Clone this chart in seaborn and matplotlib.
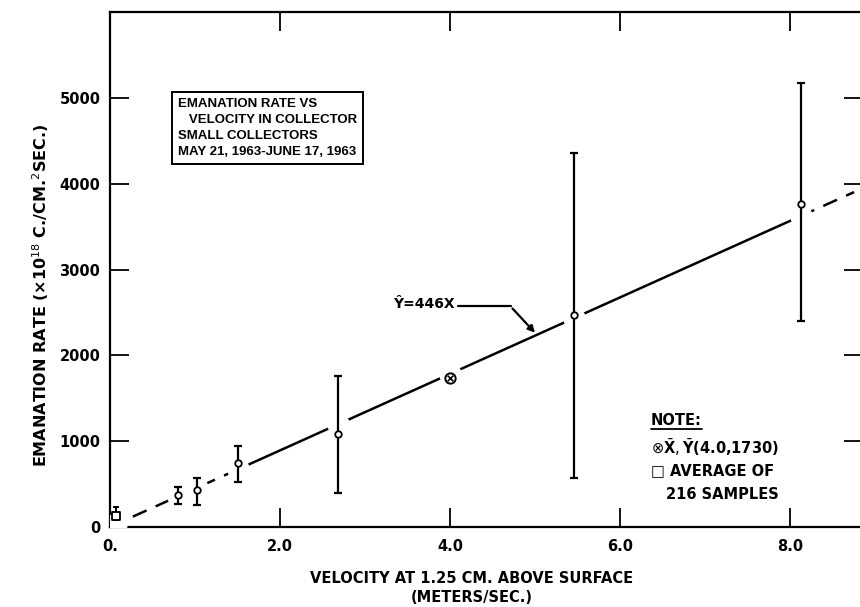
import numpy as np
import pandas as pd
import matplotlib
matplotlib.use("Agg")
import matplotlib.pyplot as plt
import seaborn as sns

# values
velocity = [0.80, 1.02, 1.50, 2.68, 5.46, 8.12]
rate = [372, 430, 744, 1081, 2465, 3767]
rate_low = [267, 256, 523, 395, 570, 2395]
rate_high = [465, 570, 942, 1756, 4360, 5174]

avg_x = [0.07]
avg_y = [128]
avg_low = [80]
avg_high = [230]

mean_x = 4.0
mean_y = 1730
slope = 446

x_ticks = [0, 2, 4, 6, 8]
x_ticklabels = ["0.", "2.0", "4.0", "6.0", "8.0"]
y_ticks = [0, 1000, 2000, 3000, 4000, 5000]

df = pd.DataFrame({"velocity": velocity, "rate": rate,
                   "low": rate_low, "high": rate_high})

sns.set_theme(style="ticks")
plt.rcParams["font.family"] = ["DejaVu Sans"]
plt.rcParams["text.color"] = "black"
plt.rcParams["axes.labelcolor"] = "black"
plt.rcParams["xtick.color"] = "black"
plt.rcParams["ytick.color"] = "black"

fig = plt.figure(figsize=(8.6, 6.07), dpi=100)
ax = fig.add_axes([0.128, 0.132, 0.875, 0.848])
ax.set_xlim(0, 8.85)
ax.set_ylim(0, 6000)

# fitted line  Y = 446 X : dashed at both ends, solid in the middle
x_dash1 = np.linspace(0, velocity[2], 20)
x_solid = np.linspace(velocity[2], velocity[-1], 50)
x_dash2 = np.linspace(velocity[-1], 8.75, 10)
sns.lineplot(x=x_dash1, y=slope * x_dash1, ax=ax, color="black", lw=1.8,
             linestyle=(0, (6, 4)), zorder=2)
sns.lineplot(x=x_solid, y=slope * x_solid, ax=ax, color="black", lw=1.8, zorder=2)
sns.lineplot(x=x_dash2, y=slope * x_dash2, ax=ax, color="black", lw=1.8,
             linestyle=(0, (6, 4)), zorder=2)

# white halos to break the line around the points
halo_x = velocity + avg_x + [mean_x]
ax.scatter(halo_x, [slope * v for v in halo_x], s=260, color="white", zorder=3,
           linewidths=0)

# error bars
yerr = [df["rate"] - df["low"], df["high"] - df["rate"]]
ax.errorbar(df["velocity"], df["rate"], yerr=yerr, fmt="none", ecolor="black",
            elinewidth=1.6, capsize=3, capthick=1.6, zorder=4)
ax.errorbar(avg_x, avg_y, yerr=[[avg_y[0] - avg_low[0]], [avg_high[0] - avg_y[0]]],
            fmt="none", ecolor="black", elinewidth=1.4, capsize=2, capthick=1.4, zorder=4)

sns.scatterplot(data=df, x="velocity", y="rate", ax=ax, marker="o", s=22,
                facecolor="white", edgecolor="black", linewidth=1.3, zorder=5)
ax.scatter(avg_x, avg_y, marker="s", s=30, facecolor="white", edgecolor="black",
           linewidth=1.3, zorder=5)
ax.scatter([mean_x], [mean_y], marker="o", s=55, facecolor="white", edgecolor="black",
           linewidth=1.4, zorder=5)
ax.scatter([mean_x], [mean_y], marker="x", s=16, color="black", linewidth=1.2, zorder=6)

# regression label with arrow
ax.annotate("", xy=(5.02, slope * 5.02), xytext=(4.71, 2570),
            arrowprops=dict(arrowstyle="-|>", color="black", lw=1.6,
                            mutation_scale=10), zorder=6)
ax.plot([4.09, 4.71], [2570, 2570], color="black", lw=1.6, zorder=6)
ax.text(4.05, 2600, "Ŷ=446X", ha="right", va="center", fontsize=10,
        fontweight="bold")

# title box
ax.text(0.80, 5000,
        "EMANATION RATE VS\n   VELOCITY IN COLLECTOR\nSMALL COLLECTORS\nMAY 21, 1963-JUNE 17, 1963",
        ha="left", va="top", fontsize=9.5, linespacing=1.45,
        family=["Liberation Sans", "DejaVu Sans"], fontweight="bold",
        bbox=dict(boxstyle="square,pad=0.45", facecolor="white",
                  edgecolor="black", lw=1.4))

# note
note = ax.text(6.36, 1245, "NOTE:", ha="left", va="center", fontsize=10.5,
               fontweight="bold")
ax.text(6.36, 931, r"$\otimes\bar{\mathbf{X}},\bar{\mathbf{Y}}$(4.0,1730)",
        ha="left", va="center", fontsize=10.5, fontweight="bold")
ax.text(6.36, 652, "□ AVERAGE OF", ha="left", va="center", fontsize=10.5,
        fontweight="bold")
ax.text(6.54, 372, "216 SAMPLES", ha="left", va="center", fontsize=10.5,
        fontweight="bold")

ax.set_xticks(x_ticks)
ax.set_xticklabels(x_ticklabels)
ax.set_yticks(y_ticks)
ax.tick_params(direction="in", length=14, width=1.3, top=True, right=True,
               labelsize=10.5)
ax.tick_params(axis="x", pad=9)
ax.tick_params(axis="y", pad=7)
for lab in ax.get_xticklabels() + ax.get_yticklabels():
    lab.set_fontweight("bold")
for sp in ax.spines.values():
    sp.set_linewidth(1.6)
    sp.set_color("black")

ax.set_xlabel("VELOCITY AT 1.25 CM. ABOVE SURFACE\n(METERS/SEC.)", fontsize=10.5,
              fontweight="bold", linespacing=1.4)
ax.xaxis.set_label_coords(0.48, -0.085, transform=ax.transAxes)
ax.xaxis.label.set_va("top")
ax.set_ylabel(r"EMANATION RATE (×10$^{18}$ C./CM.$^{2}$SEC.)", fontsize=11.5,
              fontweight="bold")
ax.yaxis.set_label_coords(-0.078, 0.449, transform=ax.transAxes)

# underline for NOTE:
fig.canvas.draw()
bb = note.get_window_extent().transformed(ax.transData.inverted())
ax.plot([bb.x0, bb.x1], [bb.y0 - 20, bb.y0 - 20], color="black", lw=1.3)

fig.savefig("out.png", dpi=100)
